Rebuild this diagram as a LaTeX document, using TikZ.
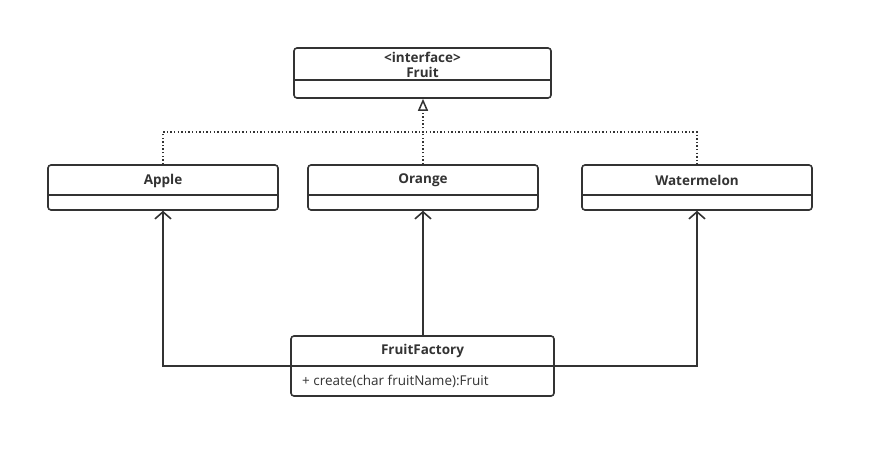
\documentclass[tikz,border=0pt]{standalone}
\usepackage{fontspec}
\setmainfont{Open Sans}
\usetikzlibrary{arrows.meta}
\definecolor{ink}{HTML}{333333}
\begin{document}
\begin{tikzpicture}[x=1pt,y=-1pt,
  box/.style={draw=ink, line width=1.6pt, rounded corners=3pt, inner sep=0pt, fill=white},
  divline/.style={draw=ink, line width=1.6pt},
  title/.style={text=ink, font=\fontsize{13.5}{15}\selectfont\bfseries, inner sep=0pt},
  member/.style={text=ink, font=\fontsize{13.5}{15}\selectfont, inner sep=0pt, anchor=west},
  conn/.style={draw=ink, line width=1.6pt},
  dotconn/.style={draw=ink, line width=1.6pt, dash pattern=on 1.4pt off 2.2pt},
  realize/.style={-{Triangle[open, length=12pt, width=10pt, line width=1.5pt]}},
  assoc/.style={-{Straight Barb[length=7pt, width=16pt, line width=1.6pt]}}
]
\useasboundingbox (0,0) rectangle (873,458);
% Fruit
\node[box, minimum width=257pt, minimum height=50pt] (fruit) at (422.5,73) {};
\draw[divline] (294,80) -- (551,80);
\node[title] (fruitst) at (422.5,57) {<interface>};
\node[title] (fruitname) at (422.5,72) {Fruit};
% Apple
\node[box, minimum width=230pt, minimum height=45pt] (apple) at (163,187.5) {};
\draw[divline] (48,195) -- (278,195);
\node[title] (applename) at (163,180.5) {Apple};
% Orange
\node[box, minimum width=230pt, minimum height=45pt] (orange) at (423,187.5) {};
\draw[divline] (308,195) -- (538,195);
\node[title] (orangename) at (423,180.5) {Orange};
% Watermelon
\node[box, minimum width=230pt, minimum height=45pt] (water) at (697,187.5) {};
\draw[divline] (582,195) -- (812,195);
\node[title] (watername) at (697,180.5) {Watermelon};
% FruitFactory
\node[box, minimum width=263pt, minimum height=60pt] (factory) at (422.5,366) {};
\draw[divline] (291,366) -- (554,366);
\node[title] (factoryname) at (422.5,351) {FruitFactory};
\node[member] (create) at (302,381.5) {+ create(char fruitName):Fruit};
% realization (dotted)
\coordinate (junc) at (423,132);
\draw[dotconn] (apple.north) -- (163,132) -- (697,132) -- (water.north);
\draw[dotconn] (orange.north) -- (junc);
\draw[dotconn, realize] (junc) -- (junc |- fruit.south);
% associations
\draw[conn, assoc] (orange.south |- factory.north) -- (orange.south);
\draw[conn, assoc] (factory.west |- 0,366) -- (163,366) -- (apple.south);
\draw[conn, assoc] (factory.east |- 0,366) -- (697,366) -- (water.south);
\end{tikzpicture}
\end{document}
